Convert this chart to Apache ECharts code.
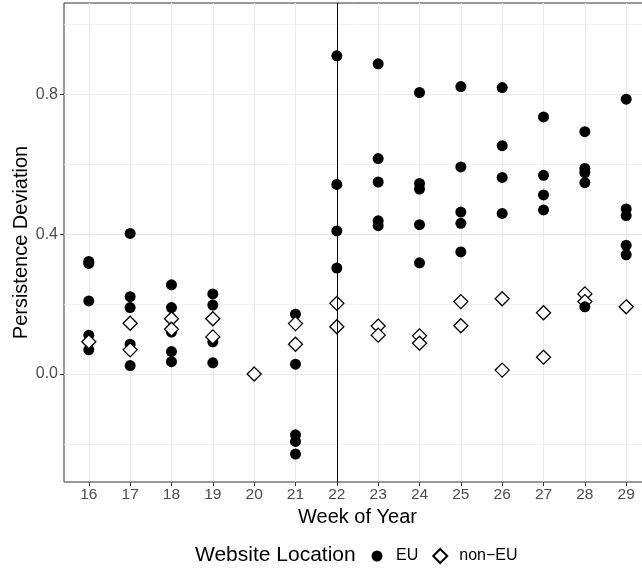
<!DOCTYPE html>
<html>
<head>
<meta charset="utf-8">
<script src="https://cdn.jsdelivr.net/npm/echarts@6/dist/echarts.min.js"></script>
<style>html,body{margin:0;padding:0;background:#fff}#c{width:642px;height:568px}</style>
</head>
<body>
<div id="c"></div>
<script>
const weekTicks = [16,17,18,19,20,21,22,23,24,25,26,27,28,29];
const yTicks = [0, 0.4, 0.8];
const yMinorGrid = [-0.2, 0.2, 0.6, 1.0];
const policyWeek = 22;

const euWeek  = [16,16,16,16,16, 17,17,17,17,17, 18,18,18,18,18, 19,19,19,19,
                 21,21,21,21,21, 22,22,22,22, 23,23,23,23,23, 24,24,24,24,24,
                 25,25,25,25,25, 26,26,26,26, 27,27,27,27, 28,28,28,28, 29,29,29,29,29];
const euValue = [0.322,0.316,0.209,0.111,0.069, 0.402,0.221,0.190,0.085,0.024,
                 0.255,0.190,0.120,0.064,0.035, 0.229,0.197,0.092,0.032,
                 0.171,0.028,-0.174,-0.193,-0.229, 0.910,0.542,0.409,0.303,
                 0.887,0.616,0.549,0.438,0.424, 0.805,0.545,0.529,0.427,0.318,
                 0.822,0.592,0.463,0.431,0.349, 0.819,0.653,0.562,0.459,
                 0.735,0.568,0.512,0.469, 0.693,0.588,0.576,0.547,
                 0.786,0.472,0.453,0.368,0.341];
const euTopWeek  = [28];
const euTopValue = [0.192];

const nonEuWeek  = [16, 17,17, 18,18, 19,19, 20, 21,21, 22,22, 23,23, 24,24, 25,25, 26,26, 27,27, 28,28, 29];
const nonEuValue = [0.092, 0.145,0.069, 0.158,0.128, 0.158,0.106, 0.0, 0.144,0.085, 0.202,0.135,
                    0.137,0.111, 0.109,0.088, 0.207,0.138, 0.215,0.011, 0.175,0.048, 0.229,0.207, 0.192];

const pairs = (xs, ys) => xs.map((x, i) => [x, ys[i]]);
const FONT = 'Liberation Sans, Arial, sans-serif';
const dotPath = 'path://M0,0M14,14M1.5,7a5.5,5.5 0 1,0 11,0a5.5,5.5 0 1,0 -11,0Z';

const chart = echarts.init(document.getElementById('c'), null, {renderer: 'canvas'});
const gridLine = (key, v, w, c) => ({[key]: v, lineStyle: {color: c, width: w, type: 'solid'}});

chart.setOption({
  animation: false,
  backgroundColor: '#ffffff',
  textStyle: {fontFamily: FONT},
  title: {
    text: 'Website Location',
    left: 195, top: 544, padding: 0,
    textStyle: {fontFamily: FONT, fontSize: 21, fontWeight: 'normal', color: '#000', lineHeight: 22}
  },
  legend: {
    data: [{name: 'EU', icon: dotPath}, {name: 'non\u2212EU', icon: 'diamond'}],
    left: 370, top: 548, padding: 0,
    itemWidth: 14, itemHeight: 14, itemGap: 14,
    textStyle: {fontFamily: FONT, fontSize: 16, color: '#000', padding: [0,0,0,7]}
  },
  grid: {
    left: 64, top: 3, width: 587, height: 479,
    outerBoundsMode: 'none', containLabel: false,
    show: true, borderColor: '#333333', borderWidth: 1, backgroundColor: 'transparent'
  },
  xAxis: {
    type: 'value', min: 15.4, max: 29.6, position: 'bottom',
    name: 'Week of Year', nameLocation: 'middle', nameGap: 25, nameMoveOverlap: false,
    nameTextStyle: {fontFamily: FONT, fontSize: 20, color: '#000'},
    axisLine: {show: false, onZero: false},
    axisTick: {show: true, length: 4, customValues: weekTicks, lineStyle: {color: '#333', width: 1}},
    axisLabel: {customValues: weekTicks, margin: 5, fontFamily: FONT, fontSize: 15.5, color: '#4D4D4D'},
    splitLine: {show: false}
  },
  yAxis: {
    type: 'value', min: -0.309, max: 1.061, position: 'left',
    name: 'Persistence Deviation', nameLocation: 'middle', nameGap: 33, nameRotate: 90,
    nameMoveOverlap: false,
    nameTextStyle: {fontFamily: FONT, fontSize: 20, color: '#000'},
    axisLine: {show: false, onZero: false},
    axisTick: {show: true, length: 4, customValues: yTicks, lineStyle: {color: '#333', width: 1}},
    axisLabel: {customValues: yTicks, margin: 6, fontFamily: FONT, fontSize: 16, color: '#4D4D4D',
                formatter: v => v.toFixed(1)},
    splitLine: {show: false}
  },
  series: [
    {
      type: 'scatter', name: '_grid', data: [], z: 0, silent: true,
      markLine: {
        z: 0, silent: true, symbol: ['none','none'], label: {show: false}, animation: false,
        data: [
          ...yMinorGrid.map(v => gridLine('yAxis', v, 0.8, '#EFEFEF')),
          ...yTicks.map(v => gridLine('yAxis', v, 1.1, '#EBEBEB')),
          ...weekTicks.map(v => gridLine('xAxis', v, 1.1, '#EBEBEB'))
        ]
      }
    },
    {
      type: 'scatter', name: 'EU', z: 3,
      data: pairs(euWeek, euValue),
      symbol: 'circle', symbolSize: 11,
      itemStyle: {color: '#000', opacity: 1}
    },
    {
      type: 'scatter', name: 'non\u2212EU', z: 4,
      data: pairs(nonEuWeek, nonEuValue),
      symbol: 'diamond', symbolSize: 14,
      itemStyle: {color: '#fff', borderColor: '#000', borderWidth: 1.3, opacity: 1}
    },
    {
      type: 'scatter', name: 'EU', z: 5,
      data: pairs(euTopWeek, euTopValue),
      symbol: 'circle', symbolSize: 11,
      itemStyle: {color: '#000', opacity: 1}
    },
    {
      type: 'scatter', name: '_vline', data: [], z: 6, silent: true,
      markLine: {
        z: 10, silent: true, symbol: ['none','none'], label: {show: false}, animation: false,
        data: [{xAxis: policyWeek, lineStyle: {color: '#000', width: 1, type: 'solid'}}]
      }
    }
  ]
});
</script>
</body>
</html>
